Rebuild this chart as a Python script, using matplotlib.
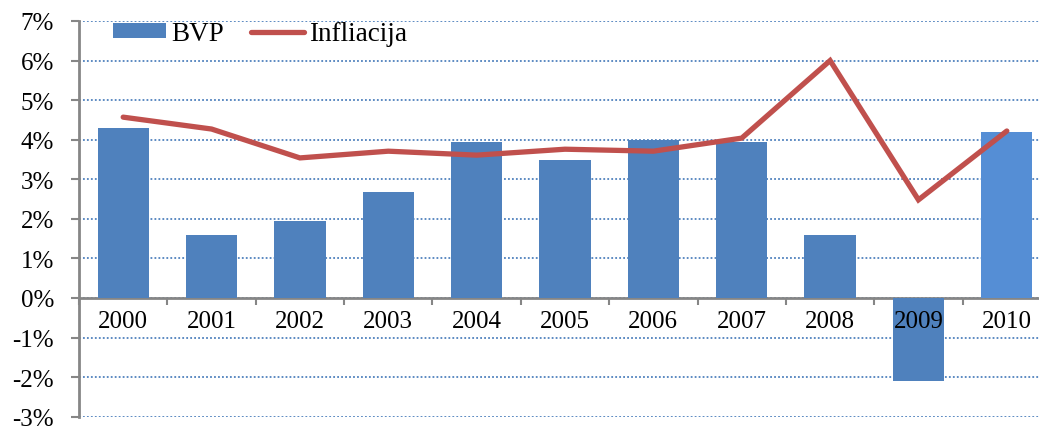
import numpy as np
import matplotlib
matplotlib.use("Agg")
import matplotlib.pyplot as plt
from matplotlib.ticker import FixedLocator

plt.rcParams['font.family'] = ['Liberation Serif', 'DejaVu Serif']

# podaci
godine = ['2000', '2001', '2002', '2003', '2004', '2005', '2006', '2007', '2008', '2009', '2010']
bvp = [4.3, 1.58, 1.95, 2.68, 3.94, 3.48, 3.99, 3.94, 1.59, -2.11, 4.19]
infliacija = [4.57, 4.27, 3.54, 3.71, 3.61, 3.76, 3.71, 4.04, 6.0, 2.48, 4.22]
y_ticks = [-3, -2, -1, 0, 1, 2, 3, 4, 5, 6, 7]

W, H = 1039, 427
fig = plt.figure(figsize=(W / 100, H / 100), dpi=100)
ax = fig.add_axes([79 / W, 9.3 / H, 972 / W, 395.7 / H])

x = np.arange(len(godine))
boje = ['#4F81BD'] * (len(godine) - 1) + ['#558ED5']
bars = ax.bar(x, bvp, width=0.58, color=boje, label='BVP', zorder=2)
line, = ax.plot(x, infliacija, color='#C0504D', lw=3.8, solid_capstyle='round',
                solid_joinstyle='miter', label='Infliacija', zorder=4)

# mreza iza stupaca
for v in y_ticks:
    ax.axhline(v, color='#4F81BD', lw=1.3, ls=(0, (1, 1.2)), zorder=0)

ax.set_xlim(-0.5, len(godine) - 0.5)
ax.set_ylim(-3, 7)
ax.set_yticks(y_ticks)
ax.set_yticklabels([f'{v}%' for v in y_ticks])

ax.set_xticks(x)
ax.set_xticklabels(godine)
ax.xaxis.set_minor_locator(FixedLocator(np.arange(-0.5, len(godine), 1)))
ax.xaxis.set_zorder(3)

for s in ['top', 'right']:
    ax.spines[s].set_visible(False)
ax.spines['bottom'].set_position(('data', 0))
ax.spines['bottom'].set_zorder(1.5)
ax.spines['bottom'].set_color('#868686')
ax.spines['bottom'].set_linewidth(2)
ax.spines['left'].set_color('#868686')
ax.spines['left'].set_linewidth(2)

ax.tick_params(axis='y', length=6, width=1.5, color='#868686', pad=12, labelsize=18)
ax.tick_params(axis='x', which='major', length=0, pad=9, labelsize=18)
ax.tick_params(axis='x', which='minor', length=5, width=1.5, color='#868686')

ax.legend([bars, line], ['BVP', 'Infliacija'], loc='upper left', ncol=2,
          frameon=False, fontsize=19.5,
          bbox_to_anchor=(113 / W, 1 - 22 / H), bbox_transform=fig.transFigure,
          borderpad=0, borderaxespad=0, handlelength=1.95, handleheight=0.45,
          handletextpad=0.2, columnspacing=1.0)

fig.savefig('out.png', dpi=100)
